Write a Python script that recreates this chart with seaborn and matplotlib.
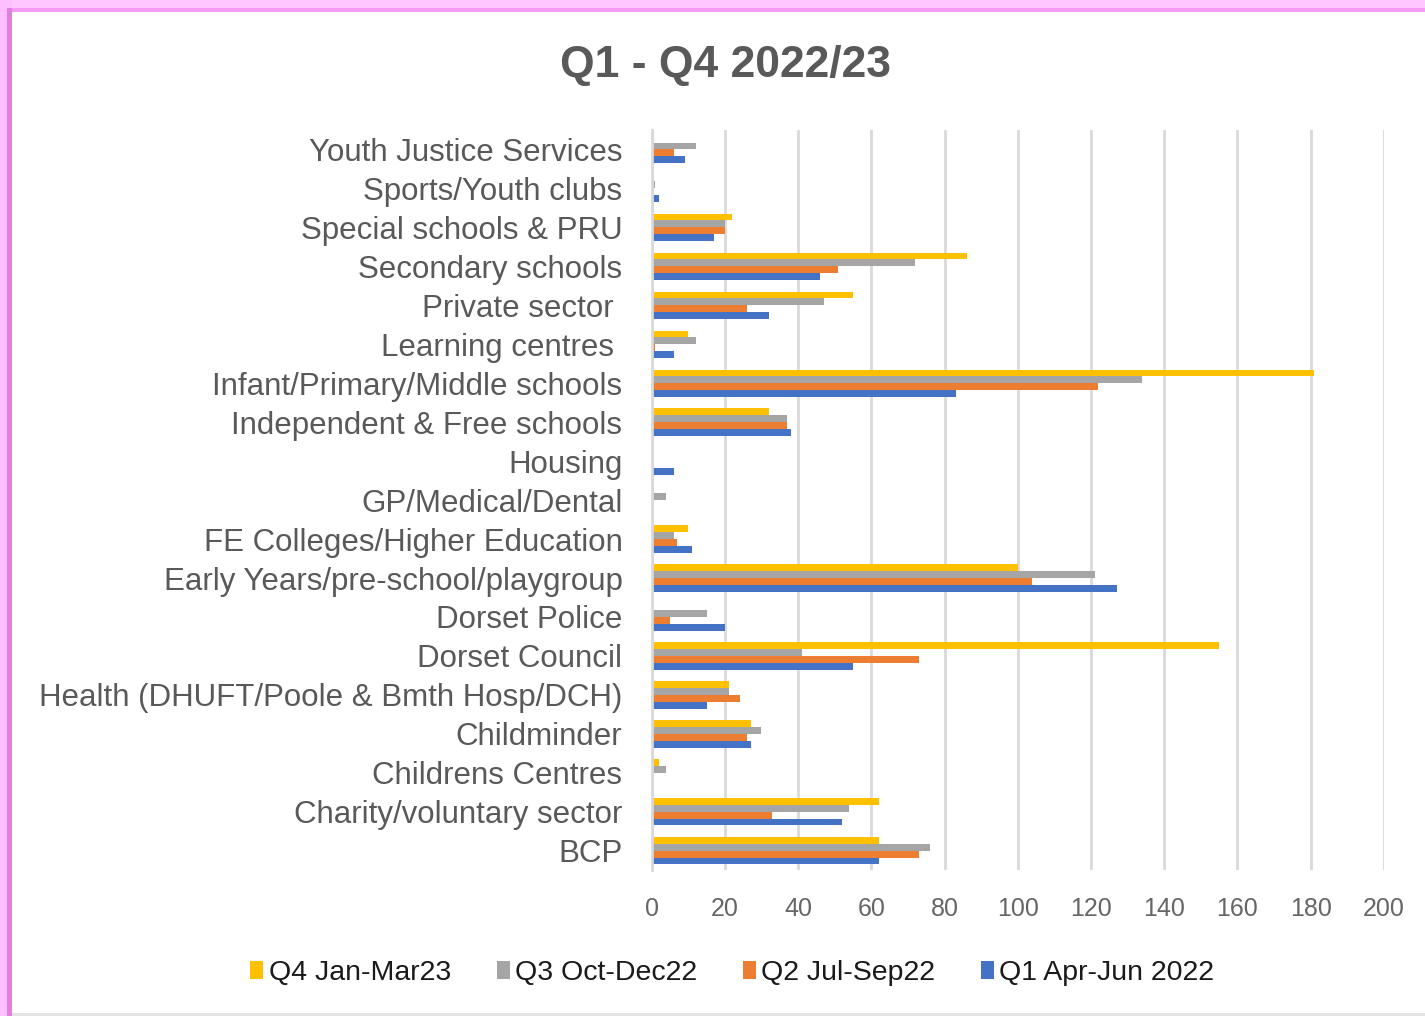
import matplotlib
matplotlib.use("Agg")
import matplotlib.pyplot as plt
from matplotlib.patches import Rectangle
import seaborn as sns
import pandas as pd

categories = [
    "Youth Justice Services",
    "Sports/Youth clubs",
    "Special schools & PRU",
    "Secondary schools",
    "Private sector ",
    "Learning centres ",
    "Infant/Primary/Middle schools",
    "Independent & Free schools",
    "Housing",
    "GP/Medical/Dental",
    "FE Colleges/Higher Education",
    "Early Years/pre-school/playgroup",
    "Dorset Police",
    "Dorset Council",
    "Health (DHUFT/Poole & Bmth Hosp/DCH)",
    "Childminder",
    "Childrens Centres",
    "Charity/voluntary sector",
    "BCP",
]

series_names = ["Q4 Jan-Mar23", "Q3 Oct-Dec22", "Q2 Jul-Sep22", "Q1 Apr-Jun 2022"]

q4_jan_mar23 = [0, 0, 22, 86, 55, 10, 181, 32, 0, 0, 10, 100, 0, 155, 21, 27, 2, 62, 62]
q3_oct_dec22 = [12, 1, 20, 72, 47, 12, 134, 37, 0, 4, 6, 121, 15, 41, 21, 30, 4, 54, 76]
q2_jul_sep22 = [6, 0, 20, 51, 26, 1, 122, 37, 0, 0, 7, 104, 5, 73, 24, 26, 0, 33, 73]
q1_apr_jun22 = [9, 2, 17, 46, 32, 6, 83, 38, 6, 0, 11, 127, 20, 55, 15, 27, 0, 52, 62]

x_ticks = [0, 20, 40, 60, 80, 100, 120, 140, 160, 180, 200]
colors = ["#FFC000", "#A5A5A5", "#ED7D31", "#4472C4"]

rows = []
for name, vals in zip(series_names, [q4_jan_mar23, q3_oct_dec22, q2_jul_sep22, q1_apr_jun22]):
    for cat, v in zip(categories, vals):
        rows.append({"category": cat, "quarter": name, "value": v})
df = pd.DataFrame(rows)

sns.set_theme(style="white")
plt.rcParams["font.family"] = ["Liberation Sans", "DejaVu Sans"]

fig = plt.figure(figsize=(14.25, 10.16), dpi=100)
ax = fig.add_axes([0.4573, 0.1434, 0.5139, 0.7288])

sns.barplot(
    data=df, y="category", x="value", hue="quarter",
    order=categories, hue_order=series_names, palette=colors,
    orient="h", width=0.7, saturation=1, errorbar=None,
    linewidth=0, ax=ax,
)

ax.set_xlim(0, 200)
ax.set_ylim(len(categories) - 0.5, -0.5)
ax.set_xticks(x_ticks)
ax.set_xticklabels([str(t) for t in x_ticks])
ax.set_xlabel("")
ax.set_ylabel("")
ax.xaxis.grid(True, color="#D9D9D9", linewidth=2)
ax.yaxis.grid(False)
ax.set_axisbelow(True)
for s in ["top", "right", "bottom"]:
    ax.spines[s].set_visible(False)
ax.spines["left"].set_color("#D9D9D9")
ax.spines["left"].set_linewidth(2)
ax.tick_params(axis="x", length=0, pad=19, labelsize=18, labelcolor="#666666")
ax.tick_params(axis="y", length=0, pad=21, labelsize=22.5, labelcolor="#595959")

handles, labels = ax.get_legend_handles_labels()
if ax.get_legend() is not None:
    ax.get_legend().remove()
fig.legend(
    handles, labels, loc="center", bbox_to_anchor=(0.514, 0.0423), ncol=4,
    frameon=False, fontsize=20.5, handlelength=0.45, handleheight=0.6,
    handletextpad=0.2, columnspacing=1.6, labelcolor="#1a1a1a",
)

fig.text(0.509, 0.936, "Q1 - Q4 2022/23", ha="center", va="center",
         fontsize=32, fontweight="bold", color="#595959")

W, H = 1425.0, 1016.0
fig.add_artist(Rectangle((0, 1 - 12 / H), 1, 12 / H, transform=fig.transFigure,
                         facecolor="#FFC6FF", edgecolor="none"))
fig.add_artist(Rectangle((0, 1 - 12 / H), 1, 4 / H, transform=fig.transFigure,
                         facecolor="#F59AF5", edgecolor="none"))
fig.add_artist(Rectangle((0, 0), 12 / W, 1, transform=fig.transFigure,
                         facecolor="#FFBEFF", edgecolor="none"))
fig.add_artist(Rectangle((7 / W, 0), 5 / W, 1 - 8 / H, transform=fig.transFigure,
                         facecolor="#E07FE0", edgecolor="none"))
fig.add_artist(Rectangle((12 / W, 0), 1, 3 / H, transform=fig.transFigure,
                         facecolor="#E4E4E4", edgecolor="none"))

fig.savefig("out.png", dpi=100)
